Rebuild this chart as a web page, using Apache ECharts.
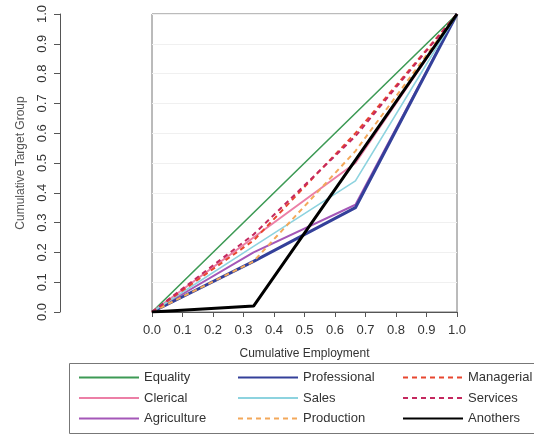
<!DOCTYPE html>
<html>
<head>
<meta charset="utf-8">
<script src="https://cdn.jsdelivr.net/npm/echarts@6/dist/echarts.min.js"></script>
<style>
html,body{margin:0;padding:0;background:#fff;}
#c{width:534px;height:434px;}
</style>
</head>
<body>
<div id="c"></div>
<script>
// Cumulative employment (x) break points
var xPoints = [0, 0.333, 0.667, 1];
// Cumulative target group (y) per group
var equality     = [0, 0.333, 0.667, 1];
var clerical     = [0, 0.25, 0.50, 1];
var agriculture  = [0, 0.20, 0.36, 1];
var professional = [0, 0.17, 0.35, 1];
var sales        = [0, 0.22, 0.44, 1];
var production   = [0, 0.17, 0.54, 1];
var managerial   = [0, 0.24, 0.60, 1];
var services     = [0, 0.26, 0.59, 1];
var anothers     = [0, 0.02, 0.51, 1];
var tickValues = [0,0.1,0.2,0.3,0.4,0.5,0.6,0.7,0.8,0.9,1.0];

function pts(ys){ return xPoints.map(function(x,i){ return [x, ys[i]]; }); }

var defs = [
  {name:'Equality', data:equality, color:'#3d9a55', w:1.6, dash:'solid'},
  {name:'Clerical', data:clerical, color:'#ec7fa6', w:2, dash:'solid'},
  {name:'Agriculture', data:agriculture, color:'#a457b8', w:2, dash:'solid'},
  {name:'Professional', data:professional, color:'#34409a', w:3, dash:'solid'},
  {name:'Sales', data:sales, color:'#8dd3df', w:1.6, dash:'solid'},
  {name:'Production', data:production, color:'#f3a85a', w:2, dash:[5,4]},
  {name:'Managerial', data:managerial, color:'#e8462f', w:2, dash:[5,4]},
  {name:'Services', data:services, color:'#c4285e', w:2, dash:[5,4]},
  {name:'Anothers', data:anothers, color:'#000000', w:3, dash:'solid'}
];

var series = defs.map(function(d){
  return {
    name:d.name, type:'line', data:pts(d.data), symbol:'none', showSymbol:false,
    xAxisIndex:0, yAxisIndex:0,
    lineStyle:{color:d.color, width:d.w, type:d.dash},
    itemStyle:{color:d.color},
    animation:false, z: d.name==='Anothers'?5:2
  };
});

var fontFam = '"Liberation Sans", Arial, sans-serif';
function legendCol(names, left){
  return {
    orient:'vertical', left:left, top:366, itemWidth:60, itemHeight:13, itemGap:7.5,
    data:names,
    itemStyle:{opacity:0, borderWidth:0},
    textStyle:{fontFamily:fontFam, fontSize:13, color:'#333'},
    selectedMode:false
  };
}

var chart = echarts.init(document.getElementById('c'), null, {renderer:'canvas'});
chart.setOption({
  animation:false,
  backgroundColor:'#ffffff',
  grid:{left:152, right:77, top:14, bottom:122, show:true, borderColor:'#777', borderWidth:1},
  xAxis:{
    type:'value', min:0, max:1, interval:0.1,
    name:'Cumulative Employment', nameLocation:'middle', nameGap:36,
    nameTextStyle:{fontFamily:fontFam, fontSize:12, color:'#333'},
    axisLine:{show:true, lineStyle:{color:'#555'}},
    axisTick:{show:true, length:5, lineStyle:{color:'#555'}},
    axisLabel:{fontFamily:fontFam, fontSize:13, color:'#333', margin:12,
      formatter:function(v){ return v.toFixed(1); }},
    splitLine:{show:false}
  },
  yAxis:[{
    type:'value', min:0, max:1, interval:0.1, position:'left',
    axisLine:{show:false}, axisTick:{show:false}, axisLabel:{show:false},
    splitLine:{show:true, lineStyle:{color:'#f0f0f0', width:1}}
  },{
    type:'value', min:0, max:1, interval:0.1, position:'left', offset:92,
    name:'Cumulative Target Group', nameLocation:'middle', nameGap:33,
    nameTextStyle:{fontFamily:fontFam, fontSize:12, color:'#555'},
    axisLine:{show:true, lineStyle:{color:'#555'}},
    axisTick:{show:true, length:6, lineStyle:{color:'#555'}},
    axisLabel:{fontFamily:fontFam, fontSize:13, color:'#333', rotate:90, margin:11,
      formatter:function(v){ return v.toFixed(1); }},
    splitLine:{show:false}
  }],
  legend:[
    legendCol(['Equality','Clerical','Agriculture'], 73),
    legendCol(['Professional','Sales','Production'], 232),
    legendCol(['Managerial','Services','Anothers'], 397)
  ],
  graphic:[{
    type:'rect', left:67, top:361, shape:{width:465, height:70},
    style:{fill:'none', stroke:'#777', lineWidth:1}, silent:true
  }],
  series:series
});
</script>
</body>
</html>
